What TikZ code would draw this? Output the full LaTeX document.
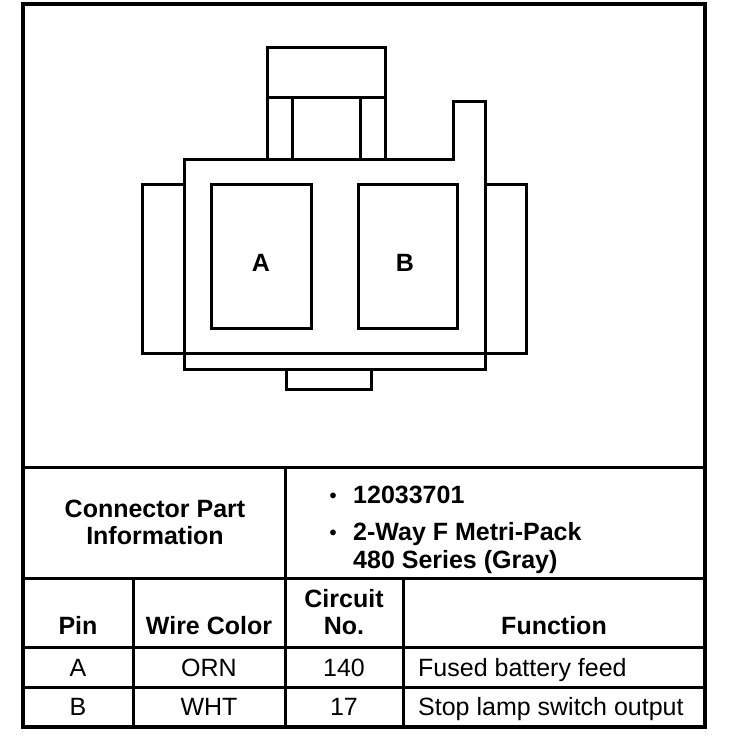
\documentclass[tikz,border=0pt]{standalone}
\usepackage{fontspec}
\setmainfont{Liberation Sans}

\tikzset{
  txt/.style={font=\fontsize{25}{28}\selectfont, inner sep=0pt, anchor=base},
  hdr/.style={txt, font=\fontsize{25}{28}\selectfont\bfseries},
  dot/.style={txt, font=\fontsize{20}{22}\selectfont\bfseries},
  part/.style={line width=3pt, line join=miter},
  rule/.style={line width=3pt}
}

\begin{document}
\begin{tikzpicture}[x=1pt,y=-1pt]
\useasboundingbox (0,0) rectangle (736,740);
\draw[line width=4pt] (23,4) rectangle (705,727);

% connector face
\draw[part] (267,47) rectangle (385,159);
\draw[part] (267,97) -- (385,97);
\draw[part] (292,97) -- (292,159);
\draw[part] (360,97) -- (360,159);
\draw[part] (184,159) -- (453,159) -- (453,101) -- (485,101) -- (485,369) -- (184,369) -- cycle;
\draw[part] (184,184) -- (142,184) -- (142,353) -- (526,353) -- (526,184) -- (485,184);
\draw[part] (286,369) -- (286,389) -- (371,389) -- (371,369);
\draw[part] (211,184) rectangle (311,328);
\draw[part] (358,184) rectangle (457,328);
\path (261,263) node[hdr,anchor=center] (pinA) {A};
\path (405,263) node[hdr,anchor=center] (pinB) {B};

% table
\foreach \y in {467,578,647,687}
  \draw[rule] (23,\y) -- (705,\y);
\draw[rule] (285,467) -- (285,727);
\draw[rule] (133,578) -- (133,727);
\draw[rule] (403,578) -- (403,727);

\path (155,517) node[hdr] (cpi1) {Connector Part};
\path (155,544) node[hdr] (cpi2) {Information};
\path (333,502) node[dot] (bul1) {\textbullet};
\path (353,503) node[hdr,anchor=base west] (partno) {12033701};
\path (333,539) node[dot] (bul2) {\textbullet};
\path (353,540) node[hdr,anchor=base west] (series1) {2-Way F Metri-Pack};
\path (353,568) node[hdr,anchor=base west] (series2) {480 Series (Gray)};

\path (78,634) node[hdr] (hpin) {Pin};
\path (209,634) node[hdr] (hwire) {Wire Color};
\path (344,607) node[hdr] (hcirc1) {Circuit};
\path (344,634) node[hdr] (hcirc2) {No.};
\path (554,634) node[hdr] (hfunc) {Function};

\path (78,676) node[txt] (pinArow) {A};
\path (209,676) node[txt] (wireA) {ORN};
\path (344,676) node[txt] (circA) {140};
\path (418,676) node[txt,anchor=base west] (funcA) {Fused battery feed};
\path (78,715) node[txt] (pinBrow) {B};
\path (209,715) node[txt] (wireB) {WHT};
\path (344,715) node[txt] (circB) {17};
\path (418,715) node[txt,anchor=base west] (funcB) {Stop lamp switch output};
\end{tikzpicture}
\end{document}
